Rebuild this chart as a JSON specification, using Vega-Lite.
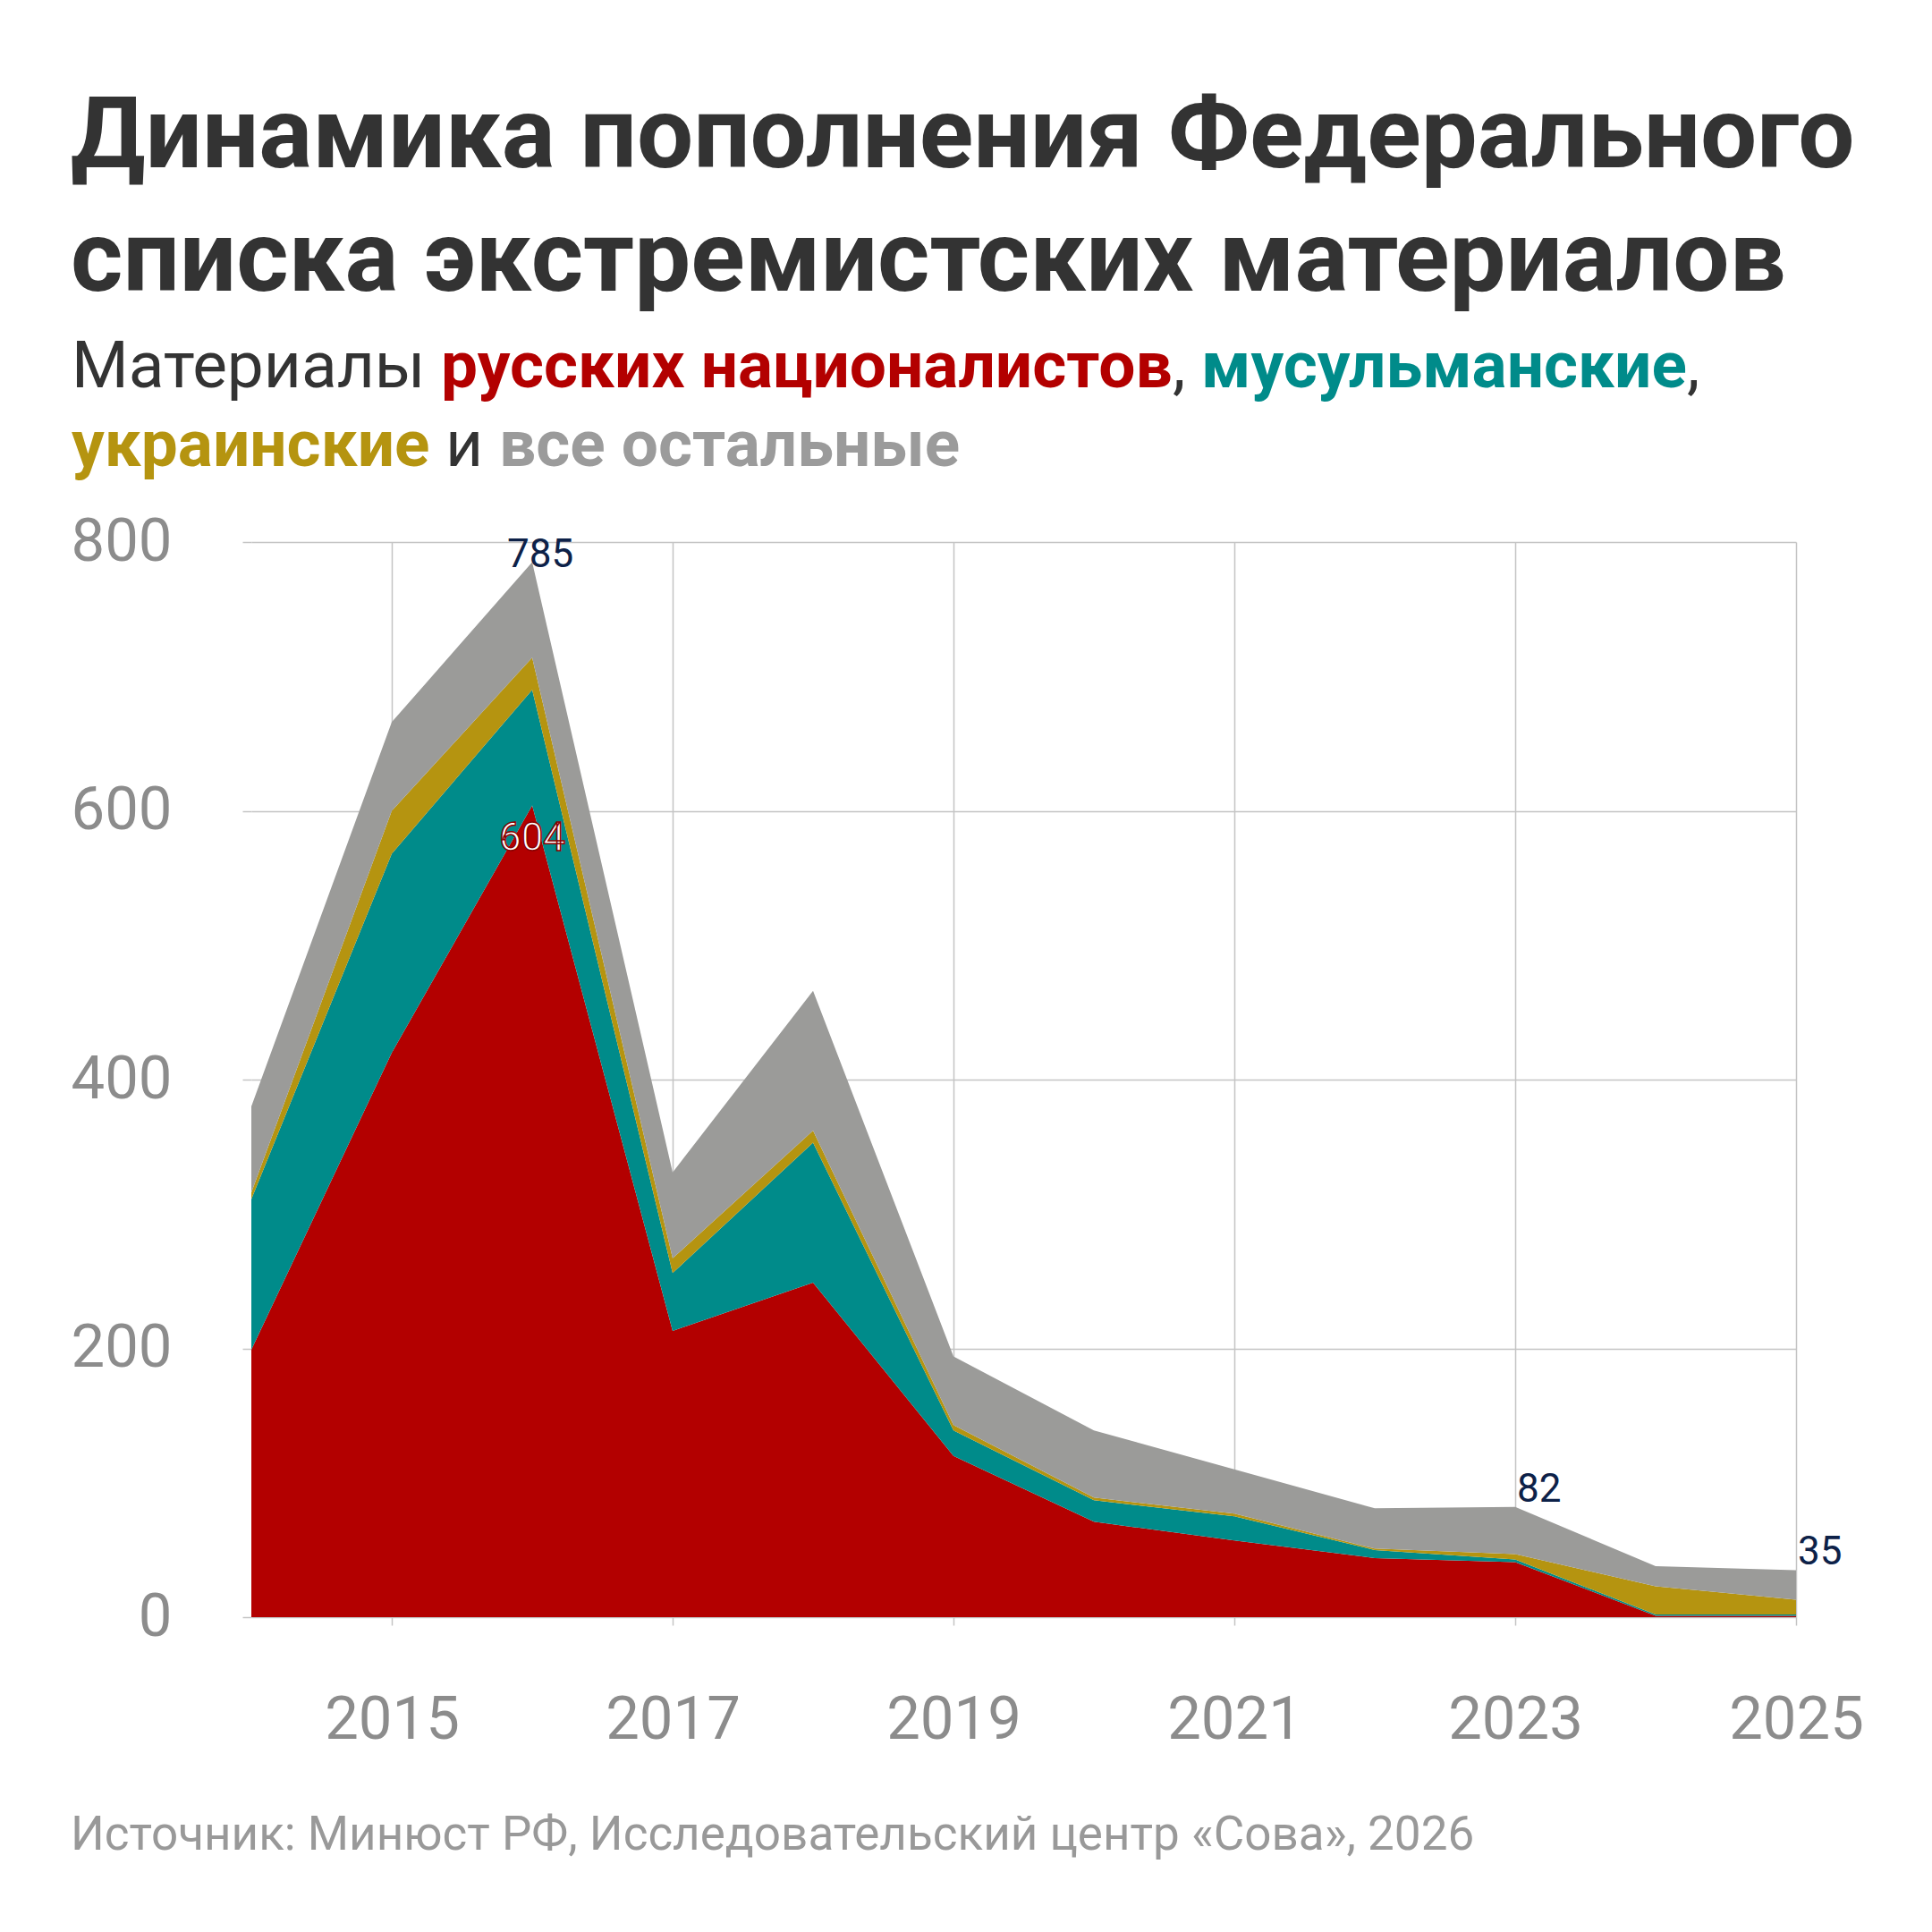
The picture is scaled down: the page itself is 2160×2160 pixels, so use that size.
{
  "$schema": "https://vega.github.io/schema/vega-lite/v6.json",
  "background": "white",
  "padding": {"left": 79, "top": 96, "right": 20, "bottom": 20},
  "config": {
    "font": "Roboto",
    "view": {"stroke": null},
    "title": {"anchor": "start", "offset": 0}
  },
  "datasets": {
    "counts": [
      {"year": 2014, "cat": "русские националисты", "n": 199},
      {"year": 2014, "cat": "мусульманские", "n": 112},
      {"year": 2014, "cat": "украинские", "n": 5},
      {"year": 2014, "cat": "все остальные", "n": 64},
      {"year": 2015, "cat": "русские националисты", "n": 420},
      {"year": 2015, "cat": "мусульманские", "n": 148},
      {"year": 2015, "cat": "украинские", "n": 32},
      {"year": 2015, "cat": "все остальные", "n": 66},
      {"year": 2016, "cat": "русские националисты", "n": 604},
      {"year": 2016, "cat": "мусульманские", "n": 86},
      {"year": 2016, "cat": "украинские", "n": 24},
      {"year": 2016, "cat": "все остальные", "n": 71},
      {"year": 2017, "cat": "русские националисты", "n": 213},
      {"year": 2017, "cat": "мусульманские", "n": 43},
      {"year": 2017, "cat": "украинские", "n": 11},
      {"year": 2017, "cat": "все остальные", "n": 64},
      {"year": 2018, "cat": "русские националисты", "n": 249},
      {"year": 2018, "cat": "мусульманские", "n": 104},
      {"year": 2018, "cat": "украинские", "n": 9},
      {"year": 2018, "cat": "все остальные", "n": 104},
      {"year": 2019, "cat": "русские националисты", "n": 120},
      {"year": 2019, "cat": "мусульманские", "n": 19},
      {"year": 2019, "cat": "украинские", "n": 4},
      {"year": 2019, "cat": "все остальные", "n": 51},
      {"year": 2020, "cat": "русские националисты", "n": 71},
      {"year": 2020, "cat": "мусульманские", "n": 16},
      {"year": 2020, "cat": "украинские", "n": 2},
      {"year": 2020, "cat": "все остальные", "n": 50},
      {"year": 2021, "cat": "русские националисты", "n": 57},
      {"year": 2021, "cat": "мусульманские", "n": 18},
      {"year": 2021, "cat": "украинские", "n": 2},
      {"year": 2021, "cat": "все остальные", "n": 33},
      {"year": 2022, "cat": "русские националисты", "n": 44},
      {"year": 2022, "cat": "мусульманские", "n": 6},
      {"year": 2022, "cat": "украинские", "n": 1},
      {"year": 2022, "cat": "все остальные", "n": 30},
      {"year": 2023, "cat": "русские националисты", "n": 41},
      {"year": 2023, "cat": "мусульманские", "n": 2},
      {"year": 2023, "cat": "украинские", "n": 4},
      {"year": 2023, "cat": "все остальные", "n": 35},
      {"year": 2024, "cat": "русские националисты", "n": 1},
      {"year": 2024, "cat": "мусульманские", "n": 1},
      {"year": 2024, "cat": "украинские", "n": 21},
      {"year": 2024, "cat": "все остальные", "n": 15},
      {"year": 2025, "cat": "русские националисты", "n": 1},
      {"year": 2025, "cat": "мусульманские", "n": 1},
      {"year": 2025, "cat": "украинские", "n": 11},
      {"year": 2025, "cat": "все остальные", "n": 22}
    ],
    "totals": [
      {"year": 2016, "value": 785, "label": "785"},
      {"year": 2023, "value": 82, "label": "82"},
      {"year": 2025, "value": 35, "label": "35"}
    ],
    "peak": [
      {"year": 2016, "value": 604, "label": "604"}
    ],
    "blank": [{}]
  },
  "title": {
    "text": ["Динамика пополнения Федерального", "списка экстремистских материалов"],
    "fontSize": 112,
    "fontWeight": "bold",
    "color": "#333333",
    "lineHeight": 138,
    "anchor": "start",
    "offset": 26
  },
  "spacing": 0,
  "align": "none",
  "vconcat": [
    {
      "hconcat": [
        {"width": 1, "height": 1, "data": {"name": "blank"}, "mark": "text", "encoding": {},
         "title": {"text": "Материалы", "fontSize": 73, "fontWeight": "normal", "color": "#333333", "dx": -201}},
        {
          "hconcat": [
            {"width": 1, "height": 1, "data": {"name": "blank"}, "mark": "text", "encoding": {},
             "title": {"text": "русских националистов", "fontSize": 73, "fontWeight": "bold", "color": "#b30000"}},
            {"width": 1, "height": 1, "data": {"name": "blank"}, "mark": "text", "encoding": {},
             "title": {"text": ",", "fontSize": 73, "fontWeight": "normal", "color": "#333333"}}
          ],
          "spacing": 0, "align": "none"
        },
        {
          "hconcat": [
            {"width": 1, "height": 1, "data": {"name": "blank"}, "mark": "text", "encoding": {},
             "title": {"text": "мусульманские", "fontSize": 73, "fontWeight": "bold", "color": "#008b8a"}},
            {"width": 1, "height": 1, "data": {"name": "blank"}, "mark": "text", "encoding": {},
             "title": {"text": ",", "fontSize": 73, "fontWeight": "normal", "color": "#333333"}}
          ],
          "spacing": 0, "align": "none"
        }
      ],
      "spacing": 17,
      "align": "none"
    },
    {
      "hconcat": [
        {"width": 1, "height": 32, "data": {"name": "blank"}, "mark": "text", "encoding": {},
         "title": {"text": "украинские", "fontSize": 73, "fontWeight": "bold", "color": "#b59410", "dx": -201}},
        {"width": 1, "height": 32, "data": {"name": "blank"}, "mark": "text", "encoding": {},
         "title": {"text": "и", "fontSize": 73, "fontWeight": "normal", "color": "#333333"}},
        {"width": 1, "height": 32, "data": {"name": "blank"}, "mark": "text", "encoding": {},
         "title": {"text": "все остальные", "fontSize": 73, "fontWeight": "bold", "color": "#9b9b9b"}}
      ],
      "spacing": 17,
      "align": "none"
    },
    {
      "width": 1727,
      "height": 1202,
      "title": {
        "text": "Источник: Минюст РФ, Исследовательский центр «Сова», 2026",
        "orient": "bottom",
        "anchor": "start",
        "frame": "bounds",
        "fontSize": 53,
        "fontWeight": "normal",
        "color": "#999999",
        "offset": 70
      },
      "layer": [
        {
          "data": {"name": "counts"},
          "transform": [
            {"calculate": "indexof(['русские националисты', 'мусульманские', 'украинские', 'все остальные'], datum.cat)", "as": "stackRank"}
          ],
          "mark": {"type": "area", "interpolate": "linear"},
          "encoding": {
            "x": {
              "field": "year", "type": "quantitative",
              "scale": {"domain": [2014, 2025], "nice": false, "zero": false},
              "axis": {
                "values": [2015, 2017, 2019, 2021, 2023, 2025],
                "format": "d", "title": null, "domain": false,
                "grid": true, "gridColor": "#c4c4c4", "gridWidth": 1.5,
                "ticks": true, "tickSize": 9, "tickColor": "#c4c4c4", "tickWidth": 1.5,
                "labelFontSize": 67, "labelColor": "#8c8c8c", "labelPadding": 73,
                "labelFlush": false, "labelOverlap": false,
                "labelFont": "Roboto"
              }
            },
            "y": {
              "field": "n", "type": "quantitative", "stack": "zero",
              "scale": {"domain": [0, 800], "nice": false},
              "axis": {
                "values": [0, 200, 400, 600, 800],
                "title": null, "domain": false,
                "grid": true, "gridColor": "#c4c4c4", "gridWidth": 1.5,
                "ticks": true, "tickSize": 10, "tickColor": "#c4c4c4", "tickWidth": 1.5,
                "labelFontSize": 67, "labelColor": "#8c8c8c", "labelPadding": 79,
                "labelFlush": false,
                "labelFont": "Roboto"
              }
            },
            "color": {
              "field": "cat", "type": "nominal",
              "scale": {
                "domain": ["русские националисты", "мусульманские", "украинские", "все остальные"],
                "range": ["#b30000", "#008b8a", "#b59410", "#9b9b99"]
              },
              "legend": null
            },
            "order": {"field": "stackRank", "type": "quantitative", "sort": "ascending"}
          }
        },
        {
          "data": {"name": "totals"},
          "transform": [{"filter": "datum.year == 2016"}],
          "mark": {"type": "text", "align": "left", "baseline": "alphabetic", "dx": -28, "dy": 5, "fontSize": 44, "color": "#0d2148"},
          "encoding": {
            "x": {"field": "year", "type": "quantitative"},
            "y": {"field": "value", "type": "quantitative"},
            "text": {"field": "label"}
          }
        },
        {
          "data": {"name": "totals"},
          "transform": [{"filter": "datum.year != 2016"}],
          "mark": {"type": "text", "align": "left", "baseline": "alphabetic", "dx": 2, "dy": -6, "fontSize": 44, "color": "#0d2148"},
          "encoding": {
            "x": {"field": "year", "type": "quantitative"},
            "y": {"field": "value", "type": "quantitative"},
            "text": {"field": "label"}
          }
        },
        {
          "data": {"name": "peak"},
          "mark": {"type": "text", "align": "center", "baseline": "top", "dy": 16, "fontSize": 44, "color": "white", "stroke": "#8b0000", "strokeWidth": 1.5},
          "encoding": {
            "x": {"field": "year", "type": "quantitative"},
            "y": {"field": "value", "type": "quantitative"},
            "text": {"field": "label"}
          }
        }
      ]
    }
  ]
}
